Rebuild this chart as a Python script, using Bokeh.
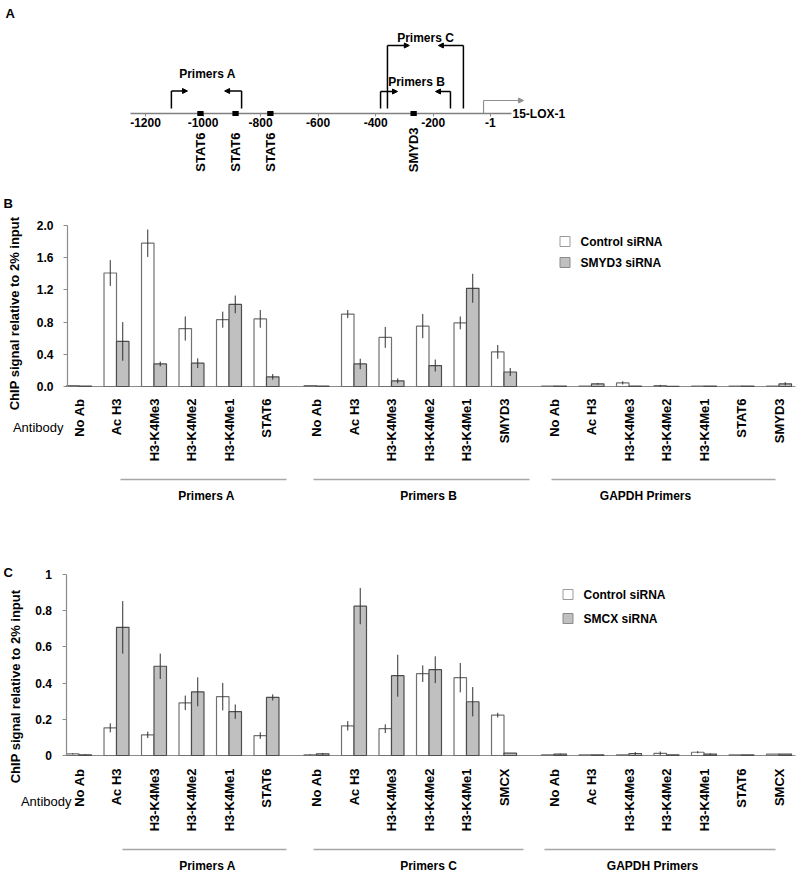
import numpy as np
from bokeh.plotting import figure
from bokeh.models import (ColumnDataSource, Range1d, FixedTicker, LinearAxis,
                          Arrow, NormalHead, NumeralTickFormatter)
from bokeh.core.properties import value
from bokeh.embed import file_html
from bokeh.resources import INLINE

FONT = "Liberation Sans"

# ---------------- Panel A data (15-LOX-1 promoter map, bp) ----------------
promoter_ticks = [-1200, -1000, -800, -600, -400, -200, -1]
stat6_sites = [-1009, -887, -766]
smyd3_sites = [-268]
primer_names = ["Primers A", "Primers B", "Primers C"]
primer_fwd = [-1110, -383, -359]
primer_rev = [-866, -140, -95]
tss_site = -25
gene_label = "15-LOX-1"

# ---------------- Panel B data (SMYD3 siRNA) ----------------
ab_A = ["No Ab", "Ac H3", "H3-K4Me3", "H3-K4Me2", "H3-K4Me1", "STAT6"]
ab_B = ["No Ab", "Ac H3", "H3-K4Me3", "H3-K4Me2", "H3-K4Me1", "SMYD3"]
ab_G_B = ["No Ab", "Ac H3", "H3-K4Me3", "H3-K4Me2", "H3-K4Me1", "STAT6", "SMYD3"]

b_A_ctrl = [0.01, 1.41, 1.78, 0.72, 0.83, 0.84]
b_A_ctrl_err = [0.0, 0.16, 0.17, 0.15, 0.10, 0.11]
b_A_kd = [0.005, 0.56, 0.28, 0.29, 1.02, 0.12]
b_A_kd_err = [0.0, 0.24, 0.03, 0.06, 0.11, 0.035]

b_B_ctrl = [0.01, 0.90, 0.61, 0.75, 0.79, 0.43]
b_B_ctrl_err = [0.0, 0.05, 0.13, 0.15, 0.08, 0.085]
b_B_kd = [0.005, 0.28, 0.07, 0.26, 1.22, 0.18]
b_B_kd_err = [0.0, 0.065, 0.03, 0.075, 0.18, 0.05]

b_G_ctrl = [0.005, 0.005, 0.045, 0.01, 0.005, 0.005, 0.005]
b_G_ctrl_err = [0.0, 0.0, 0.02, 0.01, 0.0, 0.0, 0.0]
b_G_kd = [0.005, 0.033, 0.005, 0.003, 0.005, 0.005, 0.033]
b_G_kd_err = [0.0, 0.01, 0.0, 0.0, 0.0, 0.0, 0.02]

# ---------------- Panel C data (SMCX siRNA) ----------------
ab_C = ["No Ab", "Ac H3", "H3-K4Me3", "H3-K4Me2", "H3-K4Me1", "SMCX"]
ab_G_C = ["No Ab", "Ac H3", "H3-K4Me3", "H3-K4Me2", "H3-K4Me1", "STAT6", "SMCX"]

c_A_ctrl = [0.009, 0.153, 0.114, 0.291, 0.325, 0.110]
c_A_ctrl_err = [0.003, 0.025, 0.018, 0.04, 0.076, 0.018]
c_A_kd = [0.004, 0.708, 0.493, 0.352, 0.242, 0.321]
c_A_kd_err = [0.002, 0.145, 0.07, 0.08, 0.04, 0.017]

c_C_ctrl = [0.004, 0.164, 0.148, 0.452, 0.43, 0.223]
c_C_ctrl_err = [0.002, 0.026, 0.024, 0.046, 0.081, 0.013]
c_C_kd = [0.009, 0.825, 0.441, 0.474, 0.297, 0.013]
c_C_kd_err = [0.005, 0.10, 0.116, 0.074, 0.081, 0.0]

c_G_ctrl = [0.004, 0.003, 0.004, 0.012, 0.018, 0.003, 0.008]
c_G_ctrl_err = [0.0, 0.0, 0.0, 0.01, 0.006, 0.0, 0.0]
c_G_kd = [0.008, 0.003, 0.011, 0.004, 0.008, 0.003, 0.008]
c_G_kd_err = [0.003, 0.0, 0.008, 0.0, 0.004, 0.0, 0.0]

y_ticks_B = [0.0, 0.4, 0.8, 1.2, 1.6, 2.0]
y_ticks_C = [0.0, 0.2, 0.4, 0.6, 0.8, 1.0]
y_title = "ChIP signal relative to 2% input"

# ---------------- canvas & scales ----------------
W, H = 796, 872
K = 0.2877                    # px per bp in panel A
BP0 = -1200 - 145 / K
BP1 = -1200 + (W - 145) / K
SLOT = 37.5                   # px per antibody slot
CAT0 = -78.5 / SLOT
CAT1 = (W - 78.5) / SLOT
BW = 0.333
GROUP_OFF = [0.0, 19 / 3, 38 / 3]
CTRL_FILL, KD_FILL = "white", "#c0c0c0"
CTRL_LINE, KD_LINE = "#707070", "#4d4d4d"
ERR_COLOR = "#303030"
AXIS_COLOR = "#8c8c8c"


def Y(ref):
    return H - ref


p = figure(width=W, height=H, x_range=Range1d(0, W), y_range=Range1d(0, H),
           output_backend="svg", toolbar_location=None,
           x_axis_location=None, y_axis_location=None,
           min_border_left=0, min_border_right=0, min_border_top=0, min_border_bottom=0)
p.title.visible = False
p.outline_line_color = None
p.grid.visible = False
p.background_fill_color = "white"
p.extra_x_ranges = {"bp": Range1d(BP0, BP1), "cat": Range1d(CAT0, CAT1)}
p.extra_y_ranges = {"yA": Range1d(113 - H, 113),
                    "yb": Range1d((386 - H) / 80.5, 386 / 80.5),
                    "yc": Range1d((755 - H) / 181.0, 755 / 181.0)}


def txt(x, y, text, size="13px", bold=True, align="left", baseline="middle", angle=0.0,
        xr="default", yr="default", color="black"):
    p.text(x=x, y=y, text=text, angle=angle, text_align=align, text_baseline=baseline,
           text_font=value(FONT), text_font_size=size,
           text_font_style="bold" if bold else "normal", text_color=color,
           x_range_name=xr, y_range_name=yr)


def style_axis(ax, size="12px", standoff=10, tick_out=4):
    ax.axis_line_color = AXIS_COLOR
    ax.axis_line_width = 1.2
    ax.major_tick_line_color = AXIS_COLOR
    ax.major_tick_out = tick_out
    ax.major_tick_in = 0
    ax.minor_tick_line_color = None
    ax.major_label_standoff = standoff
    ax.major_label_text_font = FONT
    ax.major_label_text_font_style = "bold"
    ax.major_label_text_font_size = size
    ax.major_label_text_color = "black"


# ================= Panel A =================
axA = LinearAxis(x_range_name="bp", y_range_name="yA", fixed_location=0,
                 ticker=FixedTicker(ticks=promoter_ticks), bounds=(-1252, 72),
                 formatter=NumeralTickFormatter(format="0"))
style_axis(axA, standoff=1, tick_out=3)
axA.axis_line_color = "#808080"
axA.axis_line_width = 1.5
p.add_layout(axA, "below")

sites = stat6_sites + smyd3_sites
p.rect(x=sites, y=[0] * len(sites), width=22, height=5, fill_color="black", line_color=None,
       x_range_name="bp", y_range_name="yA", level="overlay")
txt(stat6_sites, [Y(132)] * 3, ["STAT6"] * 3, angle=np.pi / 2, align="right", xr="bp")
txt(smyd3_sites, [Y(127)], ["SMYD3"], angle=np.pi / 2, align="right", xr="bp")

arm_h = [22.5, 22.0, 68.0]
fwd_len = [56, 59, 76]
rev_len = [59, 52, 87]
vx, vy0, vy1 = [], [], []
for i in range(3):
    for xx in (primer_fwd[i], primer_rev[i]):
        vx.append(xx); vy0.append(5); vy1.append(arm_h[i])
    for x0, x1 in ((primer_fwd[i], primer_fwd[i] + fwd_len[i]),
                   (primer_rev[i], primer_rev[i] - rev_len[i])):
        p.add_layout(Arrow(end=NormalHead(size=5, fill_color="black", line_color="black"),
                           x_start=x0, y_start=arm_h[i], x_end=x1, y_end=arm_h[i],
                           line_color="black", line_width=1.5,
                           x_range_name="bp", y_range_name="yA"))
p.segment(x0=vx, y0=vy0, x1=vx, y1=vy1, line_color="black", line_width=1.5,
          x_range_name="bp", y_range_name="yA")
txt([207, 416, 425], [Y(73), Y(81), Y(37)], primer_names, size="12px", align="center")

p.segment(x0=[tss_site], y0=[0], x1=[tss_site], y1=[13], line_color="#909090", line_width=1.2,
          x_range_name="bp", y_range_name="yA")
p.add_layout(Arrow(end=NormalHead(size=5, fill_color="#909090", line_color="#909090"),
                   x_start=tss_site, y_start=13, x_end=tss_site + 139, y_end=13,
                   line_color="#909090", line_width=1.2, x_range_name="bp", y_range_name="yA"))
txt([512], [Y(113)], [gene_label], size="12px")
txt([5], [Y(13)], ["A"])


# ================= Bar panels =================
def bar_panel(letter, groups, kd_name, y_ticks, y_fmt, yr, axis_x, L):
    ax = LinearAxis(y_range_name=yr, fixed_location=axis_x, ticker=FixedTicker(ticks=y_ticks),
                    formatter=NumeralTickFormatter(format=y_fmt), bounds=(0, y_ticks[-1]))
    style_axis(ax)
    p.add_layout(ax, "left")

    xc, xk, ctrl, kd, clo, chi, klo, khi, cx, ct = [], [], [], [], [], [], [], [], [], []
    for off, g in zip(GROUP_OFF, groups):
        cats, cv, ce, kv, ke = g
        for i, name in enumerate(cats):
            x = off + i
            cx.append(x); ct.append(name)
            xc.append(x - BW / 2); xk.append(x + BW / 2)
            ctrl.append(cv[i]); kd.append(kv[i])
            clo.append(cv[i] - ce[i]); chi.append(cv[i] + ce[i])
            klo.append(kv[i] - ke[i]); khi.append(kv[i] + ke[i])
    src = ColumnDataSource(dict(xc=xc, xk=xk, ctrl=ctrl, kd=kd, clo=clo, chi=chi,
                                klo=klo, khi=khi))
    # baseline
    p.segment(x0=[axis_x], y0=[Y(L["zero"])], x1=[795], y1=[Y(L["zero"])],
              line_color=AXIS_COLOR, line_width=1.2)
    p.vbar(x="xc", top="ctrl", bottom=0, width=BW, source=src, fill_color=CTRL_FILL,
           line_color=CTRL_LINE, line_width=1.2, x_range_name="cat", y_range_name=yr)
    p.vbar(x="xk", top="kd", bottom=0, width=BW, source=src, fill_color=KD_FILL,
           line_color=KD_LINE, line_width=1.2, x_range_name="cat", y_range_name=yr)
    p.segment(x0="xc", y0="clo", x1="xc", y1="chi", source=src, line_color=ERR_COLOR,
              line_width=1, x_range_name="cat", y_range_name=yr)
    p.segment(x0="xk", y0="klo", x1="xk", y1="khi", source=src, line_color=ERR_COLOR,
              line_width=1, x_range_name="cat", y_range_name=yr)

    # antibody labels
    txt(cx, [Y(L["cat_top"])] * len(cx), ct, angle=np.pi / 2, align="right", xr="cat")
    txt([L["ab_right"]], [Y(L["ab_y"])], ["Antibody"], bold=False, align="right")
    # primer-set brackets
    gl = L["group_lines"]
    p.segment(x0=[a for a, b in gl], y0=[Y(L["gline_y"])] * 3,
              x1=[b for a, b in gl], y1=[Y(L["gline_y"])] * 3,
              line_color="#a6a6a6", line_width=1.5)
    txt(L["glabel_x"], [Y(L["glabel_y"])] * 3, L["glabels"], size="12px", align="center")
    # legend
    rows = [Y(r) for r in L["leg_rows"]]
    p.scatter(x=[L["leg_sq_x"]] * 2, y=rows, marker="square", size=10,
              fill_color=[CTRL_FILL, KD_FILL], line_color=["#9a9a9a", "#8a8a8a"])
    txt([L["leg_tx"]] * 2, rows, ["Control siRNA", kd_name], size="12px")
    # axis title and panel letter
    txt([L["title_x"]], [Y(L["title_y"])], [y_title], angle=np.pi / 2, align="center")
    txt([3], [Y(L["letter_y"])], [letter])


LB = dict(zero=386, letter_y=203, title_x=14, title_y=313, cat_top=398, ab_y=427, ab_right=63,
          gline_y=479, glabel_y=495, group_lines=[(120, 286), (313, 529), (551, 775)],
          glabel_x=[206, 428, 645], glabels=["Primers A", "Primers B", "GAPDH Primers"],
          leg_rows=[241, 262], leg_sq_x=564.5, leg_tx=580)
LC = dict(zero=755, letter_y=572, title_x=15, title_y=686, cat_top=768, ab_y=801, ab_right=71,
          gline_y=849, glabel_y=865, group_lines=[(122, 286), (313, 523), (544, 775)],
          glabel_x=[207, 428, 652], glabels=["Primers A", "Primers C", "GAPDH Primers"],
          leg_rows=[594, 618], leg_sq_x=567.5, leg_tx=583)

bar_panel("B", [(ab_A, b_A_ctrl, b_A_ctrl_err, b_A_kd, b_A_kd_err),
                (ab_B, b_B_ctrl, b_B_ctrl_err, b_B_kd, b_B_kd_err),
                (ab_G_B, b_G_ctrl, b_G_ctrl_err, b_G_kd, b_G_kd_err)],
          "SMYD3 siRNA", y_ticks_B, "0.0", "yb", 67, LB)
bar_panel("C", [(ab_A, c_A_ctrl, c_A_ctrl_err, c_A_kd, c_A_kd_err),
                (ab_C, c_C_ctrl, c_C_ctrl_err, c_C_kd, c_C_kd_err),
                (ab_G_C, c_G_ctrl, c_G_ctrl_err, c_G_kd, c_G_kd_err)],
          "SMCX siRNA", y_ticks_C, "0.[0]", "yc", 65.5, LC)

open("out.html", "w").write(file_html(p, INLINE))
